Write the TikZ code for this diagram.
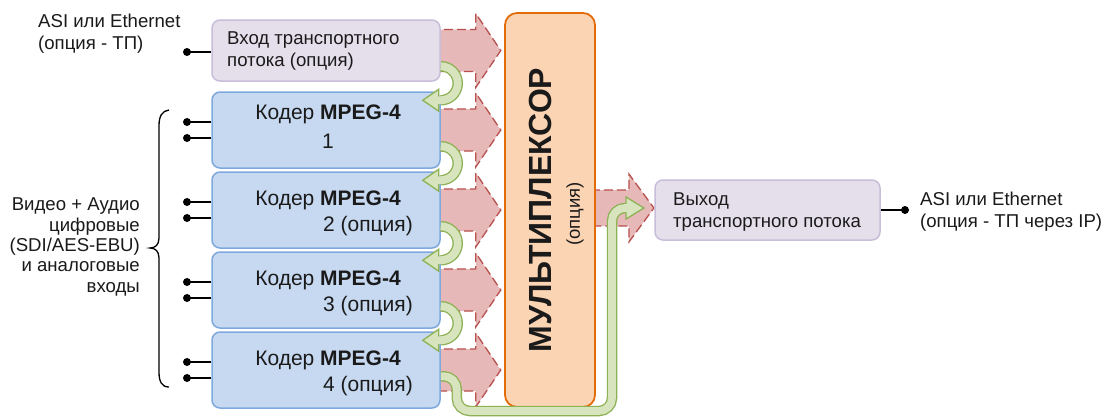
\documentclass[tikz,border=0pt]{standalone}
\usepackage{fontspec}
\setmainfont{Liberation Sans}
\usetikzlibrary{calc}
\definecolor{pfill}{HTML}{E5DFEC}
\definecolor{pdraw}{HTML}{C9BEDA}
\definecolor{bfill}{HTML}{C6D9F1}
\definecolor{bdraw}{HTML}{7FA8DE}
\definecolor{ofill}{HTML}{FBD4B4}
\definecolor{odraw}{HTML}{E36C0A}
\definecolor{rfill}{HTML}{E6B9B8}
\definecolor{rdraw}{HTML}{B8504D}
\definecolor{gfillc}{HTML}{D7E4BD}
\definecolor{gdrawc}{HTML}{8DB255}
\definecolor{txtc}{HTML}{1A1A1A}
\pgfdeclarelayer{bg}
\pgfsetlayers{bg,main}
\newcommand\redarr[1]{%
  \begin{scope}[shift={(#1.east)}]
    \draw[redarrow] (-10,-21) -- (35,-21) -- (35,-37) -- (60,0) -- (35,37) -- (35,21) -- (-10,21) -- cycle;
  \end{scope}}
\newcommand\greenarr[1]{%
  \coordinate (#1s) at ([yshift=25pt]#1.north east);
  \coordinate (#1e) at ([yshift=-9pt]#1.north east);
  \draw[gouter] (#1s) -- ++(17,0) -- ++(0,34) -- ++(-17,0);
  \draw[ghead] ([xshift=-2pt,yshift=11pt]#1e) -- ([xshift=-18pt]#1e) -- ([xshift=-2pt,yshift=-11pt]#1e) -- cycle;
  \draw[ginner] (#1s) -- ++(17,0) -- ++(0,34) -- ++(-20,0);}
\begin{document}
\begin{tikzpicture}[x=1pt,y=-1pt,
  box/.style={rounded corners=8pt, line width=1.5pt, inner sep=0pt},
  pbox/.style={box, fill=pfill, draw=pdraw},
  bbox/.style={box, fill=bfill, draw=bdraw, minimum width=228pt, minimum height=76pt},
  obox/.style={rounded corners=12pt, line width=1.8pt, fill=ofill, draw=odraw, inner sep=0pt},
  redarrow/.style={fill=rfill, draw=rdraw, line width=1.3pt, dash pattern=on 9pt off 4pt},
  gouter/.style={draw=gdrawc, line width=10.5pt, rounded corners=17pt},
  ginner/.style={draw=gfillc, line width=7.8pt, rounded corners=17pt},
  ghead/.style={fill=gfillc, draw=gdrawc, line width=1.3pt, line join=miter},
  txt/.style={text=txtc, inner sep=0pt, font=\fontsize{18.6}{22}\selectfont},
  etxt/.style={text=txtc, inner sep=0pt, font=\fontsize{21}{24}\selectfont},
  wire/.style={line width=1.6pt, draw=black},
  dot/.style={fill=black},
]
\useasboundingbox (0,0) rectangle (1110,418);

% boxes
\node[pbox, minimum width=228pt, minimum height=61pt] (in) at (326,50.5) {};
\node[bbox] (e1) at (326,130) {};
\node[bbox] (e2) at (326,210) {};
\node[bbox] (e3) at (326,290) {};
\node[bbox] (e4) at (326,370) {};
\node[obox, minimum width=90pt, minimum height=394pt] (mux) at (550,210) {};
\node[pbox, minimum width=225pt, minimum height=60pt] (out) at (767.5,210) {};

% red arrows on background
\begin{pgfonlayer}{bg}
  \fill[white] (0,0) rectangle (1110,418);
  \redarr{in}
  \redarr{e1}
  \redarr{e2}
  \redarr{e3}
  \redarr{e4}
  \begin{scope}[shift={(mux.east)}]
    \draw[redarrow] (-5,-20) -- (33,-20) -- (33,-36) -- (58,-2) -- (33,32) -- (33,16) -- (-5,16) -- cycle;
  \end{scope}
\end{pgfonlayer}

% texts
\node[txt, anchor=west, align=left] (intxt) at (227,51) {Вход транспортного\\потока (опция)};
\node[etxt] (e1a) at (328,114) {Кодер \textbf{MPEG-4}};
\node[etxt] (e1b) at (328,141) {1};
\node[etxt] (e2a) at (328,200) {Кодер \textbf{MPEG-4}};
\node[etxt] (e2b) at (368,226) {2 (опция)};
\node[etxt] (e3a) at (328,280) {Кодер \textbf{MPEG-4}};
\node[etxt] (e3b) at (368,306) {3 (опция)};
\node[etxt] (e4a) at (328,360) {Кодер \textbf{MPEG-4}};
\node[etxt] (e4b) at (368,386) {4 (опция)};
\node[rotate=90, text=txtc, inner sep=0pt, font=\bfseries\fontsize{32}{32}\selectfont] (muxa) at (540,210) {МУЛЬТИПЛЕКСОР};
\node[rotate=90, text=txtc, inner sep=0pt, font=\fontsize{18.5}{20}\selectfont] (muxb) at (575,214) {(опция)};
\node[txt, anchor=west, align=left] (outtxt) at (673,212) {Выход\\транспортного потока};
\node[txt, anchor=west, align=left] (tl) at (38,34) {ASI или Ethernet\\(опция - ТП)};
\node[txt, anchor=west, align=left] (tr) at (920,212) {ASI или Ethernet\\(опция - ТП через IP)};
\node[txt, anchor=east, align=right, font=\fontsize{18.6}{20.3}\selectfont] (lt) at (140,247) {Видео + Аудио\\цифровые \\(SDI/AES-EBU)\\и аналоговые\\входы};

% brace
\draw[line width=1.3pt] (169,110) .. controls (162,111) and (159,116) .. (159,126) -- (159,238) .. controls (159,245) and (155,248) .. (150,248) .. controls (155,248) and (159,251) .. (159,258) -- (159,372) .. controls (159,382) and (162,387) .. (169,387);

% input wires and dots
\coordinate (d0) at (187,52);
\draw[wire] (d0) -- (d0 -| in.west);
\fill[dot] (d0) circle (4pt);
\foreach \k/\T in {1/92,2/172,3/252,4/332}{
  \coordinate (da\k) at (187,\T+30);
  \coordinate (db\k) at (187,\T+46);
  \draw[wire] (da\k) -- (da\k -| e\k.west);
  \draw[wire] (db\k) -- (db\k -| e\k.west);
  \fill[dot] (da\k) circle (4pt);
  \fill[dot] (db\k) circle (4pt);
}
\coordinate (dout) at (905,210);
\draw[wire] (out.east) -- (dout);
\fill[dot] (dout) circle (4pt);

% green arrows
\greenarr{e1}
\greenarr{e2}
\greenarr{e3}
\greenarr{e4}
\coordinate (gs) at ([yshift=-45pt]e4.north east);
\coordinate (ge) at (628,208);
\draw[gouter, rounded corners=13pt] (gs) -- ++(16,0) |- (612,411) |- (ge);
\draw[ghead] (626,197) -- (644,208) -- (626,219) -- cycle;
\draw[ginner, rounded corners=13pt] (gs) -- ++(16,0) |- (612,411) |- ([xshift=2pt]ge);
\end{tikzpicture}
\end{document}
